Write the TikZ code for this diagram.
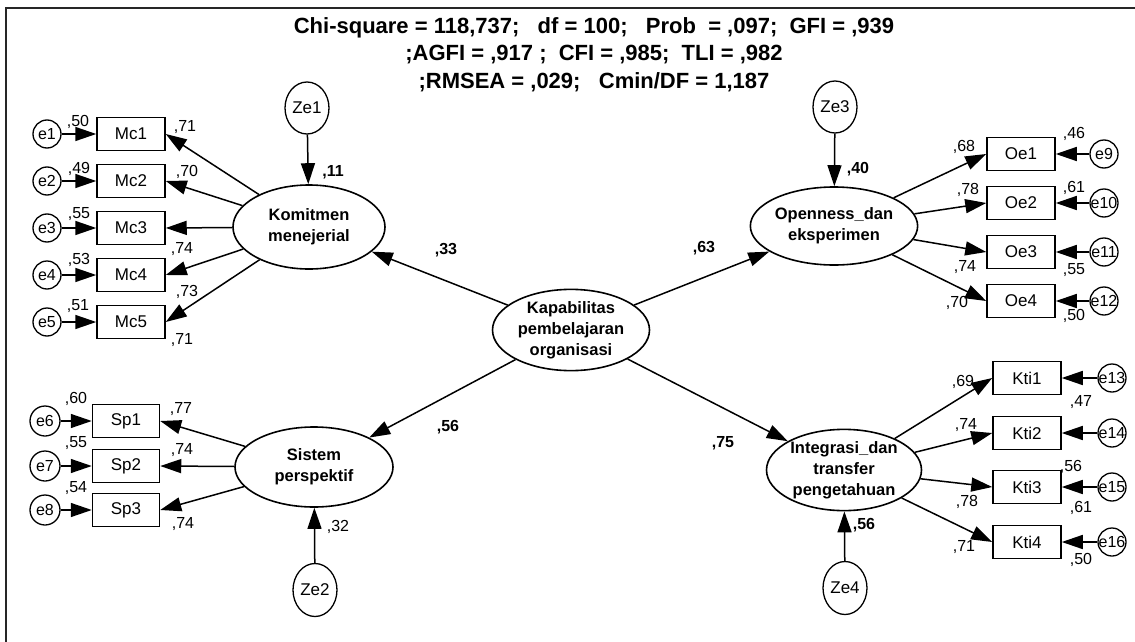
\documentclass[tikz,border=0pt]{standalone}
\usepackage{fontspec}
\setmainfont{Liberation Sans}
\usetikzlibrary{shapes.geometric,arrows.meta}
\begin{document}
\begin{tikzpicture}[x=1pt,y=-1pt,
  obs/.style={draw, line width=1.5pt, minimum width=68pt, minimum height=33pt, inner sep=0pt, font=\fontsize{17}{20}\selectfont},
  err/.style={draw, circle, line width=1.3pt, minimum size=28pt, inner sep=0pt, font=\fontsize{16}{19}\selectfont},
  dist/.style={draw, ellipse, line width=1.3pt, minimum width=44pt, minimum height=52pt, inner sep=0pt, font=\fontsize{17}{20}\selectfont},
  lat/.style={draw, ellipse, line width=1.6pt, inner sep=0pt, align=center, font=\bfseries\fontsize{16.5}{21}\selectfont},
  pth/.style={line width=1.5pt, -{Triangle[length=21pt,width=14pt]}},
  coef/.style={font=\fontsize{16}{19}\selectfont, inner sep=0pt},
  bcoef/.style={font=\bfseries\fontsize{16}{19}\selectfont, inner sep=0pt},
  ttl/.style={font=\bfseries\fontsize{22}{25}\selectfont, inner sep=0pt},
]
\useasboundingbox (0,0) rectangle (1135,642);
\clip (0,0) rectangle (1135,642);
\fill[white] (0,0) rectangle (1135,642);
\draw[line width=2.5pt, black!85] (6,700) -- (6,8) -- (1200,8);

% title
\node[ttl] (t1) at (594,28) {Chi-square = 118,737;\ \ \ df = 100;\ \ \ Prob\ \ = ,097;\ \ GFI = ,939};
\node[ttl] (t2) at (594,55) {;AGFI = ,917 ;\ \ CFI = ,985;\ \ TLI = ,982};
\node[ttl] (t3) at (594,82) {;RMSEA = ,029;\ \ \ Cmin/DF = 1,187};

% central
\node[lat, minimum width=157pt, minimum height=81pt] (kap) at (571,330) {Kapabilitas\\pembelajaran\\organisasi};

% ---------- Komitmen
\node[lat, minimum width=152pt, minimum height=84pt] (kom) at (309,227) {Komitmen\\menejerial};
\node[dist] (ze1) at (307,108) {Ze1};
\foreach \i/\y in {1/134,2/181,3/228,4/275,5/322}{
  \node[obs] (mc\i) at (131,\y) {Mc\i};
  \node[err] (e\i) at (47,\y) {\makebox[0pt]{e\i}};
  \draw[pth] (e\i) -- (mc\i.west);
  \draw[pth] (kom) -- (mc\i.east);
}
\draw[pth] (ze1) -- (kom);
\node[bcoef] (l11) at (333,172) {,11};
\node[coef] at (78,122) {,50};
\node[coef] at (79,169) {,49};
\node[coef] at (79,214) {,55};
\node[coef] at (79,260) {,53};
\node[coef] at (78,306) {,51};
\node[coef] at (185,127) {,71};
\node[coef] at (187,172) {,70};
\node[coef] at (182,249) {,74};
\node[coef] at (187,292) {,73};
\node[coef] at (182,340) {,71};

% ---------- Sistem
\node[lat, minimum width=158pt, minimum height=80pt] (sis) at (314,467) {Sistem\\perspektif};
\node[dist, minimum height=53pt] (ze2) at (315,590) {Ze2};
\foreach \i/\y/\n in {1/421/6,2/466/7,3/510/8}{
  \node[obs, minimum width=67pt] (sp\i) at (126,\y) {Sp\i};
  \node[err, minimum size=30pt] (e\n) at (45,\y) {\makebox[0pt]{e\n}};
  \draw[pth] (e\n) -- (sp\i.west);
  \draw[pth] (sis) -- (sp\i.east);
}
\draw[pth] (ze2) -- (sis);
\node[coef] at (338,527) {,32};
\node[coef] at (76,399) {,60};
\node[coef] at (76,443) {,55};
\node[coef] at (76,488) {,54};
\node[coef] at (181,409) {,77};
\node[coef] at (182,450) {,74};
\node[coef] at (183,524) {,74};

% ---------- Openness
\node[lat, minimum width=158pt, minimum height=78pt] (ope) at (834,226) {Openness\_dan\\eksperimen};
\node[dist] (ze3) at (835,107) {Ze3};
\foreach \i/\y/\n in {1/154/9,2/203/10,3/252/11,4/301/12}{
  \node[obs] (oe\i) at (1021,\y) {Oe\i};
  \node[err] (e\n) at (1104,\y) {\makebox[0pt]{e\n}};
  \draw[pth] (e\n) -- (oe\i.east);
  \draw[pth] (ope) -- (oe\i.west);
}
\draw[pth] (ze3) -- (ope);
\node[bcoef] at (858,169) {,40};
\node[coef] at (1074,134) {,46};
\node[coef] at (1074,188) {,61};
\node[coef] at (1074,270) {,55};
\node[coef] at (1074,316) {,50};
\node[coef] at (964,147) {,68};
\node[coef] at (968,190) {,78};
\node[coef] at (965,267) {,74};
\node[coef] at (957,303) {,70};

% ---------- Integrasi
\node[lat, minimum width=155pt, minimum height=75pt] (int) at (844,470) {Integrasi\_dan\\transfer\\pengetahuan};
\node[dist, minimum height=53pt] (ze4) at (845,588) {Ze4};
\foreach \i/\y/\n in {1/378/13,2/433/14,3/487/15,4/542/16}{
  \node[obs] (kti\i) at (1027,\y) {Kti\i};
  \node[err] (e\n) at (1112,\y) {\makebox[0pt]{e\n}};
  \draw[pth] (e\n) -- (kti\i.east);
  \draw[pth] (int) -- (kti\i.west);
}
\draw[pth] (ze4) -- (int);
\node[bcoef] at (864,525) {,56};
\node[coef] at (963,382) {,69};
\node[coef] at (966,425) {,74};
\node[coef] at (967,502) {,78};
\node[coef] at (964,547) {,71};
\node[coef] at (1081,402) {,47};
\node[coef] at (1071,467) {,56};
\node[coef] at (1081,508) {,61};
\node[coef] at (1081,560) {,50};

% structural paths
\draw[pth] (kap) -- (kom);
\draw[pth] (kap) -- (sis);
\draw[pth] (kap) -- (ope);
\draw[pth] (kap) -- (int);
\node[bcoef] at (446,250) {,33};
\node[bcoef] at (704,248) {,63};
\node[bcoef] at (448,427) {,56};
\node[bcoef] at (723,443) {,75};
\end{tikzpicture}
\end{document}
